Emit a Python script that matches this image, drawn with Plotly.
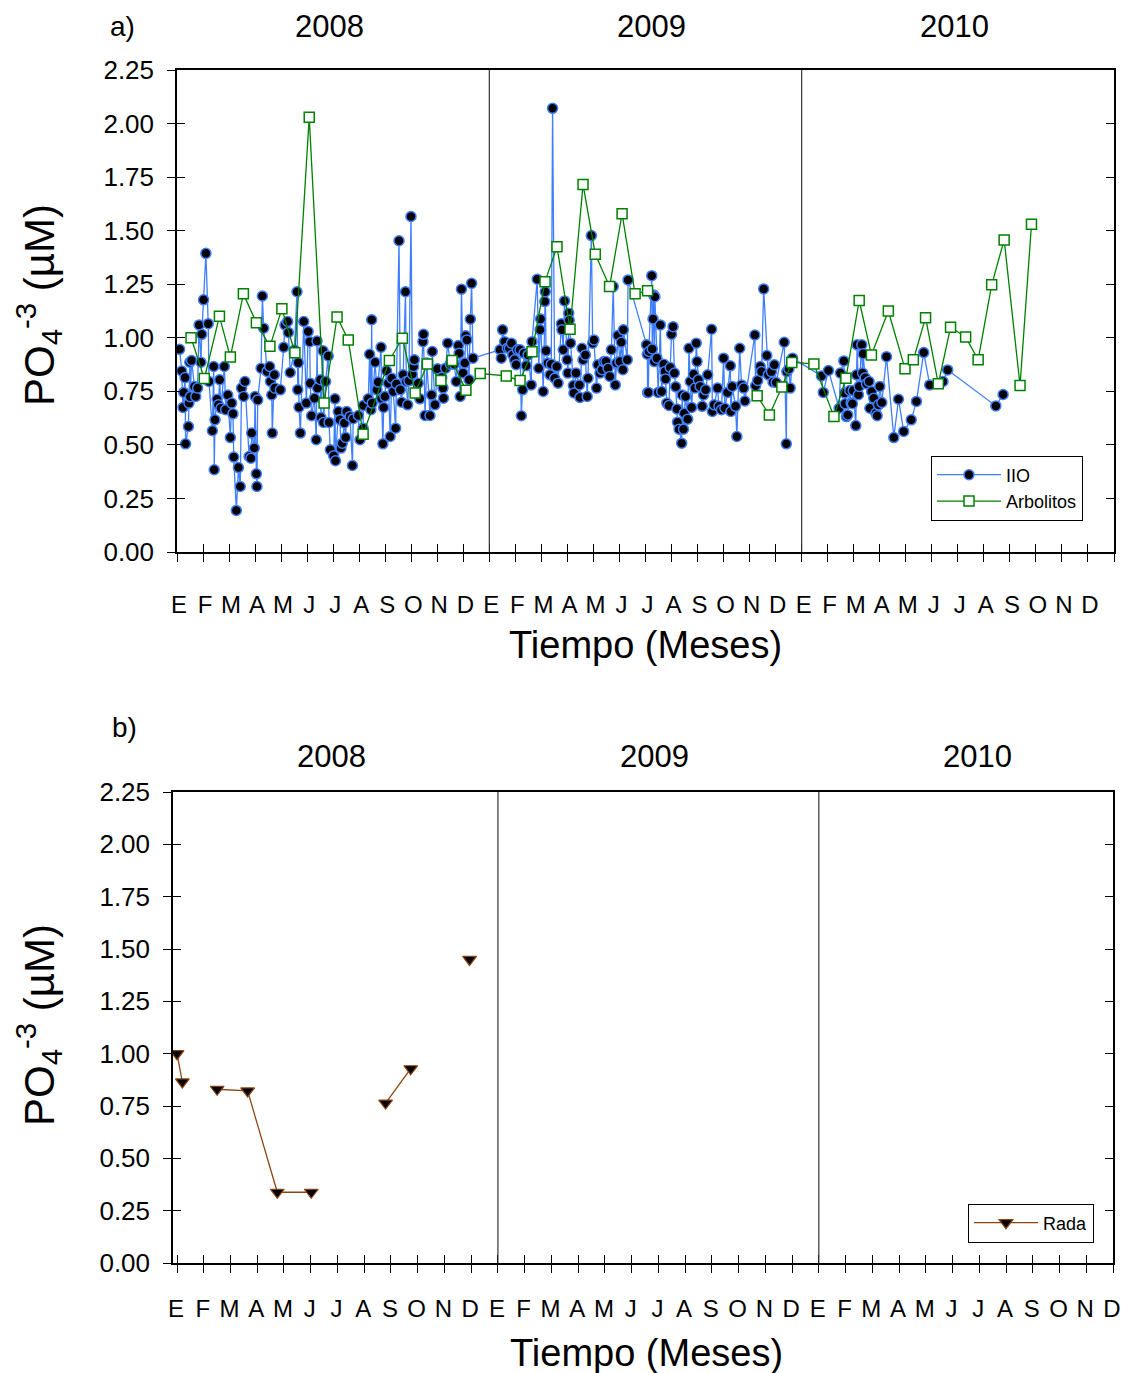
import plotly.graph_objects as go

# ---------------- DATA ----------------
# time in months since 1 Jan 2008 ; PO4 in uM
iio_t = [0.10, 0.18, 0.23, 0.26, 0.31, 0.33, 0.44, 0.46, 0.49, 0.51, 0.56, 0.67, 0.72, 0.79, 0.85, 0.92, 0.95,
         1.02, 1.11, 1.20, 1.23, 1.36, 1.41, 1.43, 1.46, 1.54, 1.59, 1.64, 1.69, 1.82, 1.87, 1.95,
         2.05, 2.10, 2.15, 2.18, 2.28, 2.36, 2.43, 2.48, 2.56, 2.61, 2.77, 2.84, 2.87, 2.97,
         3.00, 3.05, 3.07, 3.10, 3.23, 3.28, 3.33, 3.46, 3.56, 3.59, 3.64, 3.66, 3.74, 3.76, 3.97,
         4.10, 4.15, 4.25, 4.28, 4.35, 4.51, 4.61, 4.64, 4.66, 4.69, 4.74, 4.87, 4.97,
         5.04, 5.10, 5.12, 5.17, 5.28, 5.35, 5.38, 5.40, 5.51, 5.53, 5.61, 5.63, 5.71, 5.81, 5.84, 5.89,
         6.02, 6.07, 6.09, 6.20, 6.26, 6.30, 6.35, 6.43, 6.48, 6.52, 6.65, 6.74, 6.77, 6.97,
         7.03, 7.15, 7.16, 7.35, 7.40, 7.45, 7.48, 7.50, 7.61, 7.68, 7.73, 7.84, 7.86, 7.91, 7.94, 7.99,
         8.05, 8.12, 8.19, 8.25, 8.31, 8.40, 8.43, 8.53, 8.58, 8.63, 8.69, 8.78, 8.81, 8.86, 8.91, 8.99,
         9.04, 9.09, 9.12, 9.27, 9.33, 9.45, 9.47, 9.53, 9.60, 9.72, 9.78, 9.81, 9.91,
         10.01, 10.17, 10.22, 10.24, 10.32, 10.40, 10.50, 10.65, 10.73, 10.81, 10.84, 10.88, 10.93, 10.99,
         11.06, 11.09, 11.14, 11.22, 11.27, 11.32, 11.37,
         12.41, 12.46, 12.51, 12.59, 12.69, 12.77, 12.85, 12.90, 12.97,
         13.03, 13.08, 13.18, 13.23, 13.28, 13.33, 13.42, 13.49, 13.61, 13.64, 13.84, 13.90, 13.95, 13.97,
         14.07, 14.13, 14.15, 14.18, 14.25, 14.33, 14.38, 14.43, 14.51, 14.59, 14.64, 14.77, 14.79, 14.84, 14.89, 14.99,
         15.02, 15.05, 15.07, 15.12, 15.23, 15.25, 15.33, 15.46, 15.48, 15.56, 15.60, 15.69, 15.76, 15.79, 15.92, 15.97,
         16.02, 16.12, 16.17, 16.25, 16.33, 16.40, 16.48, 16.56, 16.63, 16.69, 16.76, 16.84, 16.89, 16.94,
         17.02, 17.07, 17.13, 17.15, 17.30, 17.33,
         18.04, 18.07, 18.08, 18.11, 18.13, 18.24, 18.26, 18.29, 18.31, 18.34, 18.36, 18.44, 18.49, 18.57, 18.62,
         18.70, 18.75, 18.77, 18.82, 18.90, 18.95, 19.00, 19.06, 19.11, 19.16, 19.21, 19.23, 19.29, 19.39, 19.41,
         19.46, 19.49, 19.54, 19.62, 19.67, 19.72, 19.77, 19.85, 19.90, 19.95, 19.98,
         20.03, 20.10, 20.18, 20.23, 20.31, 20.39, 20.54, 20.57, 20.64, 20.77, 20.82, 20.92,
         21.00, 21.05, 21.15, 21.26, 21.28, 21.33, 21.46, 21.51, 21.62, 21.69, 21.77, 21.82,
         22.20, 22.23, 22.31, 22.41, 22.46, 22.54, 22.66, 22.72, 22.84, 22.90, 22.95,
         23.02, 23.33, 23.41, 23.43, 23.51, 23.56, 23.65,
         24.76, 24.83, 25.03, 25.44, 25.49, 25.62, 25.65, 25.67, 25.72, 25.77, 25.85, 25.90, 25.95, 25.98,
         26.08, 26.11, 26.13, 26.18, 26.21, 26.31, 26.34, 26.36, 26.44, 26.49, 26.59, 26.62, 26.69, 26.77,
         26.85, 26.90, 26.95, 27.00, 27.08, 27.26, 27.54, 27.72, 27.92, 28.21, 28.41, 28.69, 28.92,
         29.43, 29.61, 31.46, 31.74]
iio_po4 = [0.946, 0.845, 0.675, 0.745, 0.814, 0.505, 0.586, 0.695, 0.886, 0.725, 0.894, 0.773, 0.726, 0.765, 1.060, 0.886, 1.016,
           1.177, 1.394, 1.066, 0.796, 0.566, 0.866, 0.384, 0.617, 0.713, 0.687, 0.804, 0.671, 0.866, 0.664, 0.733,
           0.534, 0.695, 0.645, 0.443, 0.194, 0.394, 0.306, 0.765, 0.726, 0.796, 0.446, 0.438, 0.555, 0.485,
           0.726, 0.365, 0.306, 0.710, 0.858, 1.195, 1.045, 0.843, 0.866, 0.796, 0.733, 0.555, 0.827, 0.765, 0.757,
           0.956, 1.060, 1.076, 1.025, 0.838, 0.943, 1.215, 0.757, 0.884, 0.676, 0.555, 1.076, 0.695,
           1.029, 0.982, 0.788, 0.636, 0.718, 0.524, 0.985, 0.765, 0.804, 0.628, 0.939, 0.605, 0.796, 0.915, 0.605, 0.477,
           0.449, 0.715, 0.426, 0.656, 0.617, 0.485, 0.508, 0.602, 0.535, 0.656, 0.633, 0.404, 0.622, 0.637,
           0.524, 0.578, 0.684, 0.715, 0.923, 0.664, 1.084, 0.695, 0.886, 0.757, 0.793, 0.956, 0.715, 0.505, 0.675, 0.726,
           0.846, 0.788, 0.539, 0.811, 0.749, 0.578, 0.784, 1.453, 0.757, 0.699, 0.827, 1.215, 0.796, 0.687, 0.799, 1.566,
           0.830, 0.866, 0.897, 0.788, 0.715, 0.982, 1.016, 0.637, 0.882, 0.637, 0.733, 0.936, 0.687,
           0.855, 0.814, 0.765, 0.718, 0.858, 0.975, 0.877, 0.877, 0.796, 0.964, 0.928, 0.726, 1.227, 0.835,
           0.882, 1.009, 0.990, 0.804, 1.087, 1.254, 0.905,
           0.944, 0.905, 1.037, 0.982, 0.951, 0.951, 0.975, 0.920, 0.897,
           0.874, 0.944, 0.944, 0.636, 0.757, 0.928, 0.870, 0.920, 0.780, 0.982, 1.273, 0.858, 1.037, 1.088,
           0.749, 1.169, 1.215, 0.939, 0.882, 0.827, 0.877, 2.071, 0.811, 0.866, 0.788, 1.065, 1.037, 0.944, 1.172, 0.897,
           0.835, 1.115, 1.082, 0.975, 0.777, 0.742, 0.835, 0.780, 0.721, 0.951, 0.897, 0.920, 0.726, 0.811, 1.477, 0.975,
           0.990, 0.765, 0.874, 0.835, 0.851, 0.889, 0.889, 0.858, 0.819, 0.944, 1.239, 0.780, 0.882, 1.011,
           0.889, 0.979, 0.851, 1.037, 0.897, 1.270,
           0.967, 0.923, 0.744, 0.745, 0.936, 1.290, 0.948, 1.088, 1.200, 0.889, 1.192, 0.905, 0.745, 1.060, 0.749,
           0.877, 0.842, 0.808, 0.695, 0.684, 0.861, 1.016, 1.052, 0.835, 0.771, 0.668, 0.606, 0.573, 0.508, 0.733,
           0.573, 0.648, 0.726, 0.620, 0.951, 0.796, 0.675, 0.830, 0.765, 0.975, 0.889,
           0.804, 0.773, 0.680, 0.733, 0.757, 0.827, 1.040, 0.656, 0.687, 0.765, 0.680, 0.664,
           0.905, 0.671, 0.745, 0.869, 0.656, 0.773, 0.680, 0.539, 0.951, 0.780, 0.765, 0.705,
           1.013, 0.776, 0.801, 0.866, 0.842, 1.228, 0.917, 0.827, 0.842, 0.793, 0.874,
           0.791, 0.979, 0.505, 0.842, 0.854, 0.765, 0.905,
           0.822, 0.745, 0.847, 0.671, 0.835, 0.892, 0.742, 0.692, 0.632, 0.640, 0.754, 0.695, 0.692, 0.754,
           0.590, 0.827, 0.967, 0.734, 0.773, 0.967, 0.835, 0.925, 0.813, 0.785, 0.796, 0.671, 0.749, 0.718,
           0.648, 0.636, 0.687, 0.773, 0.698, 0.912, 0.534, 0.713, 0.563, 0.617, 0.703, 0.931, 0.780,
           0.796, 0.850, 0.682, 0.735]

arb_t = [0.54, 1.05, 1.63, 2.05, 2.55, 3.05, 3.57, 4.03, 4.53, 5.08, 5.65, 6.15, 6.58, 7.15, 8.16, 8.66,
         9.15, 9.62, 10.14, 10.57, 11.10, 11.65,
         12.65, 13.18, 13.64, 14.14, 14.60, 15.10, 15.60, 16.07, 16.62, 17.10, 17.60, 18.08, 20.20,
         22.29, 22.76, 23.24, 23.62,
         24.47, 25.24, 25.70, 26.21, 26.68, 27.33, 27.97, 28.29, 28.76, 29.25, 29.72, 30.30, 30.78,
         31.30, 31.78, 32.39, 32.83]
arb_po4 = [1.00, 0.81, 1.10, 0.91, 1.205, 1.07, 0.96, 1.135, 0.93, 2.03, 0.695, 1.097, 0.99, 0.55, 0.894, 0.998,
           0.742, 0.878, 0.80, 0.894, 0.755, 0.833,
           0.822, 0.80, 0.935, 1.262, 1.425, 1.04, 1.716, 1.39, 1.239, 1.579, 1.205, 1.219, None,
           0.729, 0.64, 0.77, 0.885,
           0.878, 0.632, 0.811, 1.174, 0.92, 1.125, 0.855, 0.897, 1.094, 0.785, 1.049, 1.004, 0.897,
           1.247, 1.457, 0.777, 1.53]

rada_t = [0.00, 0.20, 0.85, 1.50, 2.64, 3.75, 5.02, 6.40, 7.80, 8.74, 9.80, 10.94]
rada_po4 = [1.00, 0.865, None, 0.83, 0.822, 0.338, 0.338, None, 0.764, 0.928, None, 1.45]

month_letters = ["E", "F", "M", "A", "M", "J", "J", "A", "S", "O", "N", "D"]
years = ["2008", "2009", "2010"]
y_ticks = [0.0, 0.25, 0.5, 0.75, 1.0, 1.25, 1.5, 1.75, 2.0, 2.25]

# ---------------- LAYOUT HELPERS ----------------
# the page body adds an 8 px margin; work in screen pixels and convert
OFF = 8
W, H = 1128 - OFF, 1373 - OFF


def px(x):
    return (x - OFF) / W


def py(y):
    return 1 - (y - OFF) / H


FONT = "Liberation Sans, Arial, Helvetica, sans-serif"
BLUE = "#3F7FFF"
GREEN = "#008000"
BROWN = "#8B4513"

fig = go.Figure()

fig.add_trace(go.Scatter(
    x=iio_t, y=iio_po4, mode="lines+markers", name="IIO",
    line=dict(color=BLUE, width=1.3),
    marker=dict(symbol="circle", size=10, color="black", line=dict(color=BLUE, width=1.5)),
    xaxis="x", yaxis="y", legend="legend"))
fig.add_trace(go.Scatter(
    x=arb_t, y=arb_po4, mode="lines+markers", name="Arbolitos", connectgaps=False,
    line=dict(color=GREEN, width=1.3),
    marker=dict(symbol="square", size=10, color="white", line=dict(color=GREEN, width=1.5)),
    xaxis="x", yaxis="y", legend="legend"))
fig.add_trace(go.Scatter(
    x=rada_t, y=rada_po4, mode="lines+markers", name="Rada", connectgaps=False,
    line=dict(color=BROWN, width=1.3),
    marker=dict(symbol="triangle-down", size=12, color="black", line=dict(color=BROWN, width=1.2)),
    xaxis="x2", yaxis="y2", legend="legend2"))
# empty traces to activate the overlay axes used for inward ticks
fig.add_trace(go.Scatter(x=[], y=[], xaxis="x3", yaxis="y3", showlegend=False, hoverinfo="skip"))
fig.add_trace(go.Scatter(x=[], y=[], xaxis="x4", yaxis="y4", showlegend=False, hoverinfo="skip"))

tick_common = dict(tickcolor="black", tickwidth=1.3, ticklen=8, showgrid=False, zeroline=False,
                   automargin=False)

panels = [
    ("xaxis", "yaxis", "xaxis3", "yaxis3", (177, 1114), (552, 70), [0, 36], 37, "x", "y", "x3", "y3", 22, 2),
    ("xaxis2", "yaxis2", "xaxis4", "yaxis4", (173, 1113), (1263, 792), [-0.15, 35], 36, "x2", "y2", "x4", "y4", 15, -1),
]
layout_axes = {}
for xk, yk, xok, yok, xd, yd, xr, nt, xa, ya, xoa, yoa, stand, shift in panels:
    xdom = [px(xd[0]), px(xd[1])]
    ydom = [py(yd[0]), py(yd[1])]
    tv = list(range(nt))
    tt = (month_letters * 3 + [""])[:nt]
    layout_axes[xk] = dict(domain=xdom, range=xr, anchor=ya, tickmode="array", tickvals=tv, ticktext=tt,
                           ticks="outside", showline=True, linecolor="black", linewidth=1.5, mirror=True,
                           tickfont=dict(family=FONT, size=24, color="black"),
                           ticklabelstandoff=stand, ticklabelshift=shift, **tick_common)
    layout_axes[yk] = dict(domain=ydom, range=[0, 2.25], anchor=xa, tickmode="array", tickvals=y_ticks,
                           tickformat=".2f", ticks="outside", showline=True, linecolor="black", linewidth=1.5,
                           mirror=True, tickfont=dict(family=FONT, size=26, color="black"),
                           ticklabelstandoff=8, **tick_common)
    layout_axes[xok] = dict(domain=xdom, range=xr, anchor=yoa, overlaying=xa, tickmode="array", tickvals=tv,
                            ticks="inside", showticklabels=False, showline=False, **tick_common)
    layout_axes[yok] = dict(domain=ydom, range=[0, 2.25], anchor=xoa, overlaying=ya, tickmode="array",
                            tickvals=y_ticks, ticks="inside", mirror="ticks", showline=True, linecolor="black",
                            linewidth=1.5, showticklabels=False, **tick_common)

fig.update_layout(**layout_axes)

# year separators
shapes = []
for xr_, yr_ in (("x", "y domain"), ("x2", "y2 domain")):
    for yb in (12, 24):
        shapes.append(dict(type="line", xref=xr_, yref=yr_, x0=yb, x1=yb, y0=0, y1=1,
                           line=dict(color="#333333", width=1.2)))


def label(text, x, y, size, angle=0):
    return dict(text=text, x=px(x), y=py(y), xref="paper", yref="paper", showarrow=False,
                xanchor="center", yanchor="middle", textangle=angle,
                font=dict(family=FONT, size=size, color="black"))


ann = []
ytitle = "PO<sub>4</sub><sup>-3</sup> (µM)"
ann.append(label("a)", 122, 27, 28))
ann.append(label("b)", 124, 727, 28))
ann.append(label(ytitle, 38, 305, 42, -90))
ann.append(label(ytitle, 38, 1025, 42, -90))
ann.append(label("Tiempo (Meses)", 645, 645, 38))
ann.append(label("Tiempo (Meses)", 646, 1353, 38))
for ypos, xs in ((27, (329, 651, 954)), (756, (331, 655, 977))):
    for yr, xx in zip(years, xs):
        ann.append(label(yr, xx, ypos, 31))

fig.update_layout(
    width=W, height=H, margin=dict(l=0, r=0, t=0, b=0, autoexpand=False),
    paper_bgcolor="white", plot_bgcolor="white",
    shapes=shapes, annotations=ann,
    legend=dict(x=px(1083), xanchor="right", y=py(488), yanchor="middle", bordercolor="black", borderwidth=1,
                bgcolor="white", font=dict(family=FONT, size=18, color="black"), itemwidth=64),
    legend2=dict(x=px(1094), xanchor="right", y=py(1223), yanchor="middle", bordercolor="black", borderwidth=1,
                 bgcolor="white", font=dict(family=FONT, size=18, color="black"), itemwidth=64),
    showlegend=True,
)

fig.write_html("out.html")
